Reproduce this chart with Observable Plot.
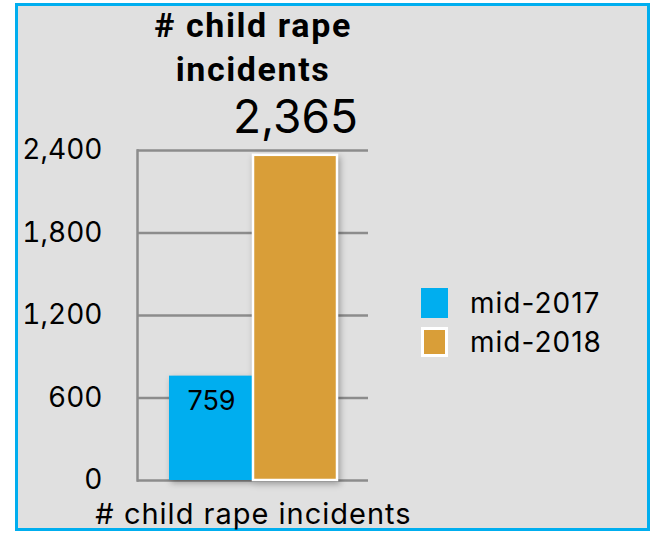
<!DOCTYPE html>
<html>
<head>
<meta charset="utf-8">
<script src="https://cdn.jsdelivr.net/npm/d3@7"></script>
<script src="https://cdn.jsdelivr.net/npm/@observablehq/plot@0.6"></script>
<style>
  html, body { margin: 0; padding: 0; background: #fff; }
  #wrap { position: relative; width: 653px; height: 533px; overflow: hidden; font-family: Inter, sans-serif; }
  #frame { position: absolute; left: 15px; top: 3px; width: 629px; height: 522px; border: 3px solid #00aeef; background: #e0e0e0; }
  #chart { position: absolute; left: 0; top: 0; }
  #chart g[aria-label="bar"] { filter: drop-shadow(2px 3px 3px rgba(0,0,0,0.3)); }
  .title { position: absolute; left: 53px; width: 400px; text-align: center; font-family: Roboto, sans-serif; font-weight: bold; font-size: 34px; letter-spacing: 1.6px; line-height: 44px; top: 3px; color: #000; }
  .xlabel { position: absolute; left: 0px; width: 507px; text-align: center; top: 496px; font-size: 29px; letter-spacing: 1px; color: #000; }
  .legend { position: absolute; left: 421px; top: 283px; }
  .legend .item { display: flex; align-items: center; height: 39px; font-size: 28px; letter-spacing: 1px; color: #000; }
  .legend .sw { width: 27px; height: 30px; margin-right: 22px; box-sizing: border-box; }
</style>
</head>
<body>
<div id="wrap">
  <div id="frame"></div>
  <div id="chart"></div>
  <div class="title" id="title"></div>
  <div class="xlabel" id="xlabel"></div>
  <div class="legend" id="legend"></div>
</div>
<script>
const titleLines = ["# child rape", "incidents"];
const category = "# child rape incidents";
const series = ["mid-2017", "mid-2018"];
const values = [759, 2365];
const colors = ["#00aeef", "#d99e38"];
const strokes = ["none", "#ffffff"];
const yTicks = [0, 600, 1200, 1800, 2400];

const data = series.map((s, i) => ({series: s, value: values[i], color: colors[i], stroke: strokes[i]}));

document.getElementById("title").innerHTML = titleLines.join("<br>");
document.getElementById("xlabel").textContent = category;
const legend = document.getElementById("legend");
data.forEach(d => {
  const item = document.createElement("div");
  item.className = "item";
  const sw = document.createElement("div");
  sw.className = "sw";
  sw.style.background = d.color;
  if (d.stroke !== "none") sw.style.border = "3px solid " + d.stroke;
  item.appendChild(sw);
  const t = document.createElement("span");
  t.textContent = d.series;
  item.appendChild(t);
  legend.appendChild(item);
});

const chart = Plot.plot({
  width: 653,
  height: 533,
  marginLeft: 137,
  marginRight: 285,
  marginTop: 150,
  marginBottom: 53,
  style: {background: "transparent", fontFamily: "Inter, sans-serif", color: "#000"},
  x: {type: "band", domain: series, paddingInner: 0, paddingOuter: 0.375, axis: null},
  y: {domain: [0, 2400], axis: null},
  marks: [
    Plot.ruleY(yTicks, {stroke: "#8c8c8c", strokeWidth: 2.5}),
    Plot.frame({anchor: "left", stroke: "#8c8c8c", strokeWidth: 2.5}),
    Plot.barY(data, {x: "series", y: "value", fill: "color", stroke: "stroke", strokeWidth: 2.5}),
    Plot.axisY({ticks: yTicks, tickSize: 0, tickPadding: 35, fontSize: 28, tickFormat: d3.format(","), label: null}),
    Plot.text(data.filter(d => d.series === "mid-2017"), {x: "series", y: "value", text: d => d3.format(",")(d.value), dy: 25, fontSize: 27, fill: "#000"}),
    Plot.text(data.filter(d => d.series === "mid-2018"), {x: "series", y: "value", text: d => d3.format(",")(d.value), dy: -37, fontSize: 46, fill: "#000"})
  ]
});
document.getElementById("chart").appendChild(chart);
</script>
</body>
</html>
